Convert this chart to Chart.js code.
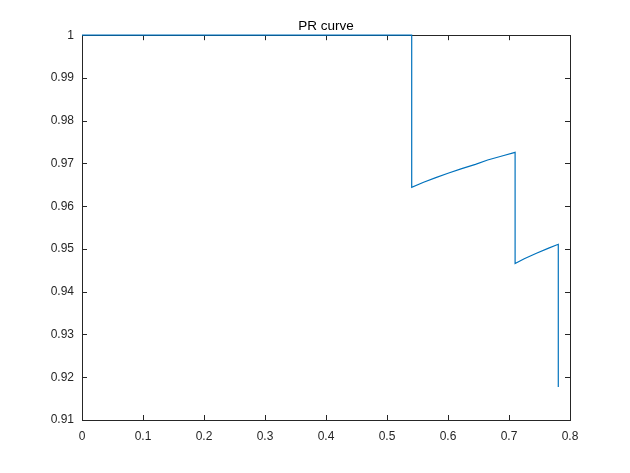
<!DOCTYPE html>
<html>
<head>
<meta charset="utf-8">
<title>PR curve</title>
<script src="https://cdn.jsdelivr.net/npm/chart.js@4.4.1/dist/chart.umd.min.js"></script>
<style>
  html, body { margin: 0; padding: 0; background: #fff; }
  #prChart { display: block; }
</style>
</head>
<body>
<canvas id="prChart" width="630" height="473"></canvas>
<script>
// Recall / precision points
const recall    = [0, 0.5405, 0.5405, 0.56,   0.58,   0.60,   0.6225, 0.645,  0.665,  0.69,   0.710,
                   0.710,  0.725,  0.745,  0.765,  0.7808, 0.7808];
const precision = [1, 1,      0.9644, 0.9656, 0.9667, 0.9677, 0.9688, 0.9698, 0.9708, 0.9718, 0.9726,
                   0.9466, 0.9477, 0.9490, 0.9502, 0.9511, 0.9177];

const xTicks      = [0, 0.1, 0.2, 0.3, 0.4, 0.5, 0.6, 0.7, 0.8];
const xTickLabels = ['0', '0.1', '0.2', '0.3', '0.4', '0.5', '0.6', '0.7', '0.8'];
const yTicks      = [0.91, 0.92, 0.93, 0.94, 0.95, 0.96, 0.97, 0.98, 0.99, 1];
const yTickLabels = ['0.91', '0.92', '0.93', '0.94', '0.95', '0.96', '0.97', '0.98', '0.99', '1'];

const AXIS_COLOR = '#262626';
const TICK_LEN = 5;

// MATLAB-like box with inward ticks on all four sides
const matlabBox = {
    id: 'matlabBox',
    beforeDatasetsDraw(chart) {
        const { ctx, chartArea: a, scales: { x, y } } = chart;
        ctx.save();
        ctx.strokeStyle = AXIS_COLOR;
        ctx.lineWidth = 1;
        ctx.beginPath();
        x.ticks.forEach(t => {
            const px = Math.round(x.getPixelForValue(t.value)) + 0.5;
            ctx.moveTo(px, a.bottom);
            ctx.lineTo(px, a.bottom - TICK_LEN);
            ctx.moveTo(px, a.top);
            ctx.lineTo(px, a.top + TICK_LEN);
        });
        y.ticks.forEach(t => {
            const py = Math.round(y.getPixelForValue(t.value)) + 0.5;
            ctx.moveTo(a.left, py);
            ctx.lineTo(a.left + TICK_LEN, py);
            ctx.moveTo(a.right, py);
            ctx.lineTo(a.right - TICK_LEN, py);
        });
        ctx.stroke();
        ctx.strokeRect(Math.round(a.left) + 0.5, Math.round(a.top) + 0.5,
                       Math.round(a.width), Math.round(a.height));
        ctx.restore();
    }
};

const tickFont = { family: "'Liberation Sans', Arial, sans-serif", size: 12 };

new Chart(document.getElementById('prChart'), {
    type: 'line',
    data: {
        datasets: [{
            label: 'PR curve',
            data: recall.map((r, i) => ({ x: r, y: precision[i] })),
            borderColor: '#0072BD',
            borderWidth: 1.2,
            pointRadius: 0,
            tension: 0,
            fill: false,
            clip: 4
        }]
    },
    options: {
        responsive: false,
        animation: false,
        layout: { padding: { left: 0, right: 60, top: 0, bottom: 0 } },
        plugins: {
            legend: { display: false },
            tooltip: { enabled: false },
            title: {
                display: true,
                fullSize: false,
                text: 'PR curve',
                color: '#000',
                font: { family: "'Liberation Sans', Arial, sans-serif", size: 13.5, weight: 'normal' },
                padding: { top: 18, bottom: 1 }
            }
        },
        scales: {
            x: {
                type: 'linear',
                min: 0,
                max: 0.8,
                afterBuildTicks: scale => { scale.ticks = xTicks.map(v => ({ value: v })); },
                afterFit: scale => { scale.height = 53; },
                grid: { display: false, drawTicks: false },
                border: { display: false },
                ticks: {
                    padding: 9,
                    color: AXIS_COLOR,
                    font: tickFont,
                    maxRotation: 0,
                    callback: (v, i) => xTickLabels[i]
                }
            },
            y: {
                type: 'linear',
                min: 0.91,
                max: 1,
                afterBuildTicks: scale => { scale.ticks = yTicks.map(v => ({ value: v })); },
                afterFit: scale => { scale.width = 82; },
                grid: { display: false, drawTicks: false },
                border: { display: false },
                ticks: {
                    padding: 8,
                    color: AXIS_COLOR,
                    font: tickFont,
                    callback: (v, i) => yTickLabels[i]
                }
            }
        }
    },
    plugins: [matlabBox]
});
</script>
</body>
</html>
